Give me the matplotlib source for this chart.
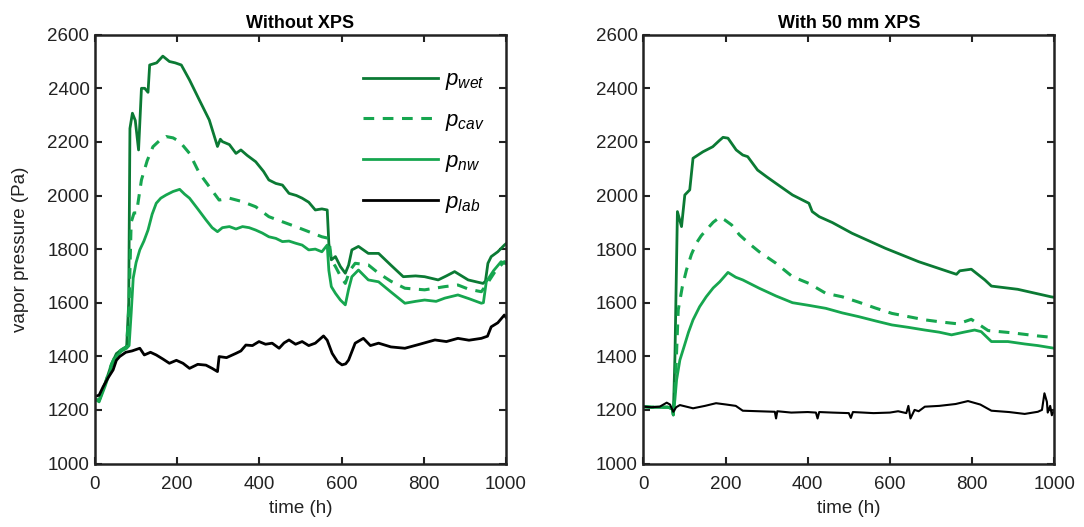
import matplotlib
matplotlib.use("Agg")
import matplotlib.pyplot as plt

plt.rcParams['font.family'] = ['Liberation Sans', 'DejaVu Sans']
plt.rcParams['mathtext.fontset'] = 'custom'
plt.rcParams['mathtext.it'] = 'Liberation Sans:italic'
plt.rcParams['mathtext.rm'] = 'Liberation Sans'

# ---------------- Without XPS ----------------
L_wet_t = [0, 10, 25, 40, 52, 65, 77, 82, 85, 91, 98, 106, 113, 121, 129, 133, 150, 165, 181, 195, 210, 230,
           254, 278, 298, 305, 310, 327, 343, 355, 370, 391, 410, 423, 440, 456, 472, 490, 504, 520, 536, 552,
           565, 569, 575, 585, 597, 609, 617, 625, 641, 665, 690, 720, 750, 780, 802, 835, 855, 875, 908, 944,
           950, 956, 964, 980, 996, 1000]
L_wet_v = [1240, 1235, 1300, 1370, 1410, 1425, 1436, 1600, 2250, 2307, 2280, 2170, 2400, 2400, 2385, 2487,
           2495, 2520, 2500, 2495, 2487, 2431, 2356, 2282, 2183, 2210, 2201, 2190, 2157, 2170, 2150, 2126,
           2090, 2058, 2045, 2039, 2008, 2000, 1990, 1975, 1946, 1950, 1946, 1820, 1760, 1772, 1735, 1710,
           1740, 1797, 1810, 1784, 1784, 1740, 1697, 1700, 1697, 1685, 1700, 1716, 1685, 1672, 1680, 1747,
           1772, 1790, 1815, 1820]

L_cav_t = [0, 10, 25, 40, 52, 65, 77, 83, 88, 95, 101, 113, 127, 141, 157, 173, 190, 206, 230, 254, 278,
           302, 327, 359, 391, 423, 456, 488, 520, 552, 569, 575, 585, 597, 609, 620, 633, 665, 690, 720, 754,
           802, 851, 883, 910, 940, 952, 975, 996, 1000]
L_cav_v = [1240, 1235, 1300, 1370, 1410, 1425, 1436, 1600, 1900, 1935, 1935, 2058, 2130, 2182, 2205, 2220,
           2215, 2201, 2157, 2083, 2033, 1983, 1990, 1977, 1958, 1921, 1902, 1884, 1865, 1846, 1840, 1760,
           1735, 1700, 1672, 1720, 1747, 1741, 1710, 1680, 1654, 1648, 1660, 1666, 1650, 1641, 1666, 1720,
           1753, 1750]

L_nw_t = [0, 10, 25, 40, 52, 65, 77, 83, 88, 93, 100, 109, 119, 129, 139, 149, 160, 173, 190, 206, 218,
          230, 250, 270, 285, 298, 310, 327, 343, 359, 375, 391, 407, 423, 440, 456, 472, 488, 504, 520, 536,
          552, 565, 569, 575, 585, 597, 609, 617, 625, 641, 665, 690, 720, 754, 780, 802, 830, 851, 883, 910,
          940, 945, 952, 970, 988, 1000]
L_nw_v = [1240, 1230, 1290, 1360, 1400, 1420, 1430, 1440, 1560, 1692, 1750, 1797, 1830, 1871, 1930, 1971,
          1990, 2002, 2015, 2023, 2005, 1990, 1950, 1909, 1880, 1865, 1880, 1884, 1875, 1884, 1880, 1871,
          1860, 1846, 1840, 1828, 1830, 1822, 1815, 1797, 1800, 1790, 1815, 1720, 1660, 1635, 1610, 1592,
          1650, 1697, 1722, 1685, 1678, 1640, 1598, 1605, 1610, 1605, 1617, 1629, 1615, 1598, 1600, 1678,
          1720, 1753, 1745]

L_lab_t = [0, 10, 20, 32, 44, 52, 60, 75, 90, 109, 120, 135, 149, 165, 181, 198, 214, 230, 250, 270, 285,
           298, 302, 320, 343, 355, 367, 383, 399, 415, 431, 448, 460, 472, 488, 504, 520, 536, 556, 565, 577,
           590, 601, 610, 617, 633, 653, 670, 690, 720, 754, 790, 827, 855, 883, 910, 940, 955, 964, 980,
           996, 1000]
L_lab_v = [1250, 1255, 1287, 1320, 1349, 1385, 1399, 1415, 1420, 1430, 1405, 1415, 1405, 1390, 1374, 1385,
           1374, 1355, 1370, 1367, 1355, 1343, 1399, 1395, 1411, 1420, 1442, 1440, 1455, 1445, 1449, 1430,
           1450, 1461, 1445, 1455, 1440, 1449, 1476, 1460, 1411, 1380, 1368, 1372, 1386, 1449, 1467, 1440,
           1449, 1435, 1430, 1445, 1461, 1455, 1467, 1460, 1467, 1475, 1510, 1525, 1554, 1545]

# ---------------- With 50 mm XPS ----------------
R_wet_t = [0, 20, 40, 60, 70, 73, 77, 83, 93, 101, 113, 121, 145, 169, 185, 194, 206, 226, 242, 254, 278,
           300, 323, 363, 403, 411, 428, 460, 508, 589, 670, 750, 762, 770, 798, 831, 847, 911, 992, 1000]
R_wet_v = [1212, 1210, 1210, 1210, 1205, 1181, 1400, 1940, 1884, 2002, 2021, 2139, 2163, 2182, 2205, 2217,
           2214, 2170, 2151, 2145, 2095, 2070, 2045, 2002, 1971, 1940, 1921, 1899, 1859, 1803, 1753, 1712,
           1706, 1719, 1725, 1685, 1662, 1650, 1622, 1620]

R_cav_t = [0, 20, 40, 60, 70, 73, 78, 85, 95, 105, 117, 129, 141, 153, 170, 186, 198, 215, 234, 258, 282,
           323, 363, 403, 444, 484, 524, 565, 605, 645, 685, 725, 766, 798, 839, 895, 960, 992, 1000]
R_cav_v = [1212, 1210, 1210, 1210, 1205, 1181, 1300, 1573, 1660, 1722, 1780, 1822, 1850, 1871, 1900, 1919,
           1909, 1890, 1853, 1820, 1790, 1747, 1697, 1672, 1635, 1622, 1602, 1580, 1560, 1548, 1536, 1528,
           1521, 1538, 1496, 1488, 1476, 1471, 1470]

R_nw_t = [0, 20, 40, 60, 70, 73, 77, 81, 89, 100, 110, 121, 137, 153, 170, 186, 206, 225, 242, 282, 323,
          363, 403, 444, 484, 524, 565, 605, 645, 685, 720, 750, 780, 806, 822, 847, 887, 928, 960, 992, 1000]
R_nw_v = [1212, 1210, 1210, 1210, 1205, 1181, 1240, 1312, 1386, 1440, 1490, 1536, 1585, 1622, 1655, 1678,
          1713, 1695, 1685, 1654, 1625, 1600, 1590, 1579, 1562, 1548, 1532, 1517, 1508, 1498, 1490, 1480,
          1490, 1498, 1492, 1455, 1455, 1446, 1440, 1432, 1430]

R_lab_t = [0, 20, 40, 57, 65, 73, 80, 89, 105, 121, 150, 177, 202, 225, 242, 280, 320, 323, 326, 360, 400,
           420, 424, 428, 460, 500, 505, 510, 560, 600, 620, 640, 645, 650, 660, 670, 685, 720, 760, 790,
           820, 847, 890, 928, 960, 970, 976, 982, 984, 990, 994, 1000]
R_lab_v = [1212, 1210, 1212, 1227, 1220, 1193, 1210, 1218, 1212, 1206, 1215, 1225, 1220, 1215, 1197, 1195,
           1193, 1168, 1195, 1190, 1192, 1190, 1168, 1192, 1190, 1188, 1170, 1192, 1188, 1190, 1195, 1188,
           1215, 1168, 1200, 1195, 1212, 1215, 1222, 1233, 1220, 1197, 1192, 1185, 1193, 1200, 1262, 1230,
           1190, 1215, 1180, 1200]

xticks = [0, 200, 400, 600, 800, 1000]
yticks = [1000, 1200, 1400, 1600, 1800, 2000, 2200, 2400, 2600]
titles = ["Without XPS", "With 50 mm XPS"]
labels = [r"$p_{wet}$", r"$p_{cav}$", r"$p_{nw}$", r"$p_{lab}$"]

dark = '#0b7a34'
light = '#16a64f'

fig = plt.figure(figsize=(10.84, 5.27), dpi=100)
axL = fig.add_axes([95/1084, 1-463.5/527, 411/1084, (463.5-34.7)/527])
axR = fig.add_axes([643.3/1084, 1-463.5/527, 411/1084, (463.5-34.7)/527])

for ax, data, title, lw_lab in [
        (axL, (L_wet_t, L_wet_v, L_cav_t, L_cav_v, L_nw_t, L_nw_v, L_lab_t, L_lab_v), titles[0], 2.0),
        (axR, (R_wet_t, R_wet_v, R_cav_t, R_cav_v, R_nw_t, R_nw_v, R_lab_t, R_lab_v), titles[1], 1.5)]:
    wt, wv, ct, cv, nt, nv, lt, lv = data
    ax.plot(wt, wv, color=dark, lw=2.0, label=labels[0])
    ax.plot(ct, cv, color=light, lw=2.2, ls=(0, (3.5, 2.8)), label=labels[1])
    ax.plot(nt, nv, color=light, lw=2.0, label=labels[2])
    ax.plot(lt, lv, color='black', lw=lw_lab, label=labels[3])
    ax.set_xlim(0, 1000)
    ax.set_ylim(1000, 2600)
    ax.set_xticks(xticks)
    ax.set_yticks(yticks)
    ax.tick_params(direction='in', top=True, right=True, labelsize=13.5, length=5, width=1.5,
                   colors='#222222')
    ax.tick_params(axis='x', pad=9)
    ax.tick_params(axis='y', pad=4)
    for s in ax.spines.values():
        s.set_linewidth(1.8)
        s.set_color('#222222')
    ax.set_title(title, fontsize=13, fontweight='bold', pad=5)
    ax.set_xlabel("time (h)", fontsize=13.5, color='#222222', labelpad=5)

axL.set_ylabel("vapor pressure (Pa)", fontsize=13.5, color='#222222', labelpad=13)
leg = axL.legend(loc='upper left', bbox_to_anchor=(0.63, 0.94), frameon=False, fontsize=16,
                 handlelength=3.4, labelspacing=0.8, handletextpad=0.3, borderaxespad=0)

fig.savefig("out.png", dpi=100)
